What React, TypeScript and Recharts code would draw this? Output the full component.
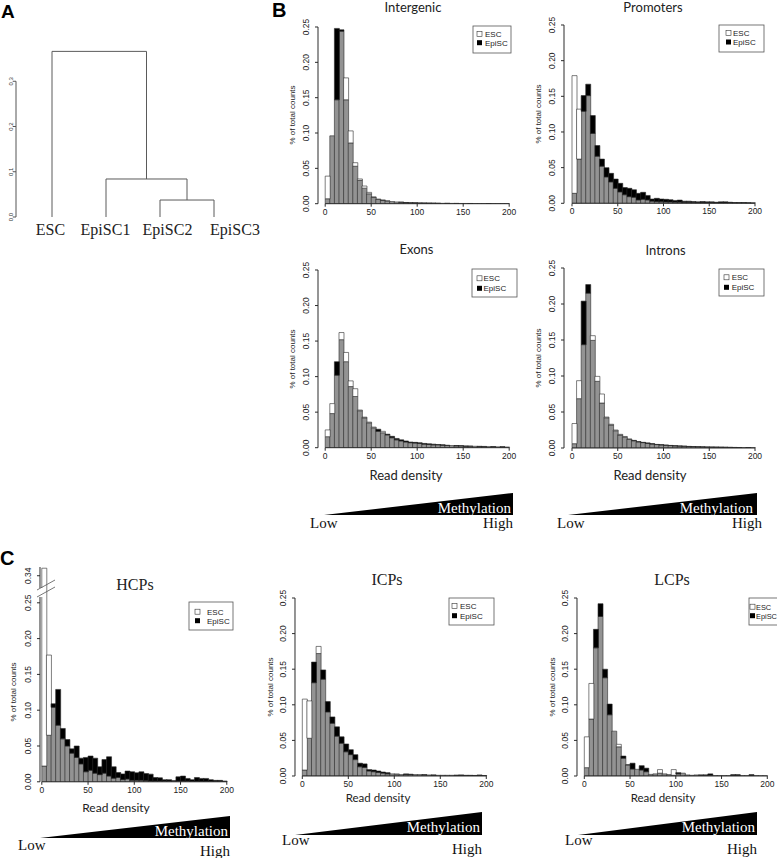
import React from 'react';
import { Bar, BarChart, ReferenceLine, Scatter, ScatterChart, XAxis, YAxis } from 'recharts';

// histogram bins: start of each 5-wide read density bin
const BIN_STARTS = [
  0, 5, 10, 15, 20, 25, 30, 35, 40, 45, 50, 55, 60, 65, 70, 75, 80, 85, 90, 95,
  100, 105, 110, 115, 120, 125, 130, 135, 140, 145, 150, 155, 160, 165, 170, 175, 180, 185, 190, 195,
];
const X_TICKS = [0, 50, 100, 150, 200];
const Y_TICKS = [0, 0.05, 0.1, 0.15, 0.2, 0.25];

const INTERGENIC_ESC = [0.039, 0.096, 0.147, 0.244, 0.178, 0.103, 0.058, 0.035, 0.025, 0.016, 0.0095, 0.0065, 0.005, 0.004, 0.003, 0.0025, 0.002, 0.0015, 0.0012, 0.001, 0.0009, 0.0008, 0.0007, 0.0006, 0.0005, 0.0005, 0.0004, 0.0004, 0.0003, 0.0003, 0.0003, 0.0002, 0.0002, 0.0002, 0.0002, 0.0001, 0.0001, 0.0001, 0.0001, 0.0001];
const INTERGENIC_EPISC = [0.007, 0.096, 0.248, 0.246, 0.147, 0.086, 0.053, 0.033, 0.022, 0.014, 0.009, 0.006, 0.0048, 0.0036, 0.003, 0.0025, 0.0021, 0.0017, 0.0014, 0.0012, 0.001, 0.0009, 0.0008, 0.0007, 0.0006, 0.0005, 0.0005, 0.0004, 0.0004, 0.0003, 0.0003, 0.0003, 0.0002, 0.0002, 0.0002, 0.0002, 0.0001, 0.0001, 0.0001, 0.0001];

const PROMOTERS_ESC = [0.179, 0.132, 0.129, 0.151, 0.098, 0.066, 0.052, 0.037, 0.03, 0.021, 0.016, 0.012, 0.0093, 0.0084, 0.0047, 0.0056, 0.0047, 0.003, 0.0023, 0.002, 0.0019, 0.0018, 0.0015, 0.0015, 0.0012, 0.001, 0.001, 0.0008, 0.0008, 0.0007, 0.0006, 0.0005, 0.0005, 0.0005, 0.0004, 0.0004, 0.0003, 0.0003, 0.0002, 0.0002];
const PROMOTERS_EPISC = [0.014, 0.062, 0.151, 0.167, 0.123, 0.081, 0.062, 0.05, 0.042, 0.034, 0.028, 0.022, 0.021, 0.019, 0.014, 0.0154, 0.011, 0.006, 0.007, 0.006, 0.0056, 0.005, 0.004, 0.0045, 0.003, 0.003, 0.0025, 0.002, 0.0025, 0.002, 0.002, 0.0015, 0.002, 0.002, 0.0015, 0.001, 0.001, 0.001, 0.0008, 0.0005];

const EXONS_ESC = [0.025, 0.062, 0.102, 0.162, 0.134, 0.094, 0.083, 0.053, 0.043, 0.036, 0.029, 0.023, 0.023, 0.018, 0.014, 0.011, 0.0095, 0.008, 0.007, 0.0065, 0.006, 0.005, 0.0045, 0.004, 0.004, 0.0035, 0.003, 0.003, 0.0025, 0.0025, 0.002, 0.002, 0.002, 0.0015, 0.0015, 0.0015, 0.0012, 0.0012, 0.001, 0.001];
const EXONS_EPISC = [0.0155, 0.048, 0.121, 0.152, 0.121, 0.086, 0.072, 0.052, 0.042, 0.035, 0.028, 0.026, 0.021, 0.019, 0.016, 0.013, 0.011, 0.0095, 0.008, 0.0075, 0.007, 0.006, 0.0055, 0.005, 0.0045, 0.004, 0.0035, 0.003, 0.003, 0.0028, 0.0025, 0.0022, 0.002, 0.002, 0.0018, 0.0015, 0.0015, 0.0012, 0.0012, 0.001];

const INTRONS_ESC = [0.034, 0.0935, 0.1435, 0.215, 0.156, 0.0995, 0.075, 0.043, 0.033, 0.025, 0.019, 0.016, 0.0125, 0.01, 0.0085, 0.0075, 0.0065, 0.0055, 0.0048, 0.0043, 0.0038, 0.0034, 0.003, 0.0027, 0.0024, 0.0021, 0.0019, 0.0017, 0.0015, 0.0013, 0.0012, 0.0011, 0.001, 0.0009, 0.0008, 0.0007, 0.0006, 0.0006, 0.0005, 0.0005];
const INTRONS_EPISC = [0.006, 0.0685, 0.204, 0.227, 0.1495, 0.0926, 0.0625, 0.042, 0.032, 0.024, 0.018, 0.015, 0.012, 0.0106, 0.0088, 0.0079, 0.007, 0.006, 0.005, 0.0046, 0.004, 0.0036, 0.0032, 0.0028, 0.0025, 0.0022, 0.002, 0.0018, 0.0016, 0.0014, 0.0013, 0.0012, 0.0011, 0.001, 0.0009, 0.0008, 0.0007, 0.0006, 0.0006, 0.0005];

const HCP_ESC = [0.365, 0.177, 0.104, 0.079, 0.06, 0.05, 0.04, 0.034, 0.025, 0.014, 0.016, 0.012, 0.01, 0.012, 0.008, 0.005, 0.006, 0.003, 0.004, 0.002, 0.002, 0.002, 0.0015, 0.001, 0.001, 0.001, 0.001, 0.001, 0.001, 0.001, 0.001, 0.001, 0.0005, 0.0005, 0.0005, 0.0005, 0.0005, 0.0005, 0.0005, 0.0005];
const HCP_EPISC = [0.022, 0.065, 0.109, 0.129, 0.0745, 0.059, 0.046, 0.05, 0.033, 0.034, 0.036, 0.033, 0.021, 0.031, 0.035, 0.021, 0.013, 0.011, 0.015, 0.014, 0.0126, 0.014, 0.0116, 0.0107, 0.006, 0.0056, 0.003, 0.003, 0.0015, 0.007, 0.008, 0.0047, 0.003, 0.006, 0.0047, 0.0047, 0.003, 0.002, 0.002, 0.001];

const ICP_ESC = [0.108, 0.1055, 0.131, 0.182, 0.136, 0.09, 0.074, 0.056, 0.046, 0.034, 0.03, 0.023, 0.013, 0.012, 0.007, 0.006, 0.005, 0.004, 0.003, 0.003, 0.003, 0.002, 0.002, 0.002, 0.002, 0.002, 0.0015, 0.0015, 0.001, 0.001, 0.001, 0.001, 0.001, 0.0008, 0.0008, 0.0006, 0.0006, 0.0005, 0.0005, 0.0004];
const ICP_EPISC = [0.0084, 0.053, 0.16, 0.172, 0.149, 0.1045, 0.083, 0.069, 0.055, 0.045, 0.037, 0.03, 0.018, 0.017, 0.009, 0.0084, 0.007, 0.0056, 0.0047, 0.003, 0.002, 0.002, 0.003, 0.0025, 0.002, 0.002, 0.0018, 0.0015, 0.0015, 0.001, 0.001, 0.001, 0.001, 0.0012, 0.0015, 0.001, 0.001, 0.0008, 0.0015, 0.0005];

const LCP_ESC = [0.055, 0.13, 0.18, 0.224, 0.138, 0.086, 0.063, 0.0445, 0.025, 0.016, 0.0098, 0.0094, 0.0084, 0.006, 0.0023, 0.003, 0.009, 0.003, 0.002, 0.009, 0.003, 0.004, 0.0015, 0.001, 0.0015, 0.001, 0.001, 0.001, 0.0005, 0.0005, 0.0005, 0.0005, 0.0005, 0.0005, 0.0005, 0.0005, 0.0005, 0.0005, 0.0003, 0.0003];
const LCP_EPISC = [0.0117, 0.08, 0.206, 0.242, 0.15, 0.101, 0.063, 0.041, 0.028, 0.0155, 0.018, 0.0094, 0.0145, 0.011, 0.0023, 0.003, 0.004, 0.003, 0.002, 0.001, 0.0047, 0.004, 0.0015, 0.001, 0.0015, 0.0015, 0.0015, 0.003, 0.0005, 0.0005, 0.0005, 0.0005, 0.002, 0.002, 0.0005, 0.0005, 0.002, 0.0005, 0.0003, 0.0003];

// dendrogram (hclust style merge table, leaves in plotting order)
const LEAVES = ['ESC', 'EpiSC1', 'EpiSC2', 'EpiSC3'];
const MERGES = [[-3, -4], [-2, 1], [-1, 2]];
const MERGE_HEIGHTS = [0.0375, 0.084, 0.366];
const DENDRO_TICKS = [0, 0.1, 0.2, 0.3];

// HCP axis is broken above 0.25
const HCP_BREAK_LABEL = 0.34;
const BREAK_SCALE = 0.42;

const GRAY = '#939393';
const INK = '#2a2a2a';
const SANS = '"Liberation Sans", Arial, sans-serif';
const SERIF = '"Liberation Serif", "Times New Roman", serif';
const CALIBRI = 'Lato, "Open Sans", sans-serif';

// leaf labels in the source sit a little right of their leaves
const LEAF_LABEL_DX = [-1.5, -0.5, 7.5, 21];

const squash = (v: number) => (v <= 0.25 ? v : 0.25 + (v - 0.25) * BREAK_SCALE);

function XTick(props: any) {
  const { x, y, payload } = props;
  return (
    <text x={x} y={y + 8} textAnchor="middle" fontSize={8.5} fontFamily={SANS} fill="#222">
      {payload.value}
    </text>
  );
}

function makeYTick(fmt: (v: number) => string) {
  return (props: any) => {
    const { x, y, payload } = props;
    const cx = x - 6;
    return (
      <text x={cx} y={y} transform={`rotate(-90 ${cx} ${y})`} textAnchor="middle" fontSize={8.5} fontFamily={SANS} fill="#222">
        {fmt(payload.value)}
      </text>
    );
  };
}

interface HistProps {
  esc: number[];
  episc: number[];
  x0: number;
  x200: number;
  y0: number;
  y25: number;
  pad: number;
  broken?: boolean;
}

function Histogram({ esc, episc, x0, x200, y0, y25, pad, broken }: HistProps) {
  const pxPerUnit = (y0 - y25) / 0.25;
  const yMax = broken ? 0.3 : 0.25;
  const plotTop = y0 - yMax * pxPerUnit;
  const plotLeft = x0 - pad;
  const plotW = x200 - x0 + 2 * pad;
  const plotH = y0 - plotTop;
  const AXIS_W = 30;
  const TOP = 14;
  const RIGHT = 8;
  const BOTTOM = 22;

  const rows = BIN_STARTS.map((bin, i) => {
    const e = broken ? squash(esc[i]) : esc[i];
    const p = broken ? squash(episc[i]) : episc[i];
    return {
      bin,
      shared: Math.min(e, p),
      escOnly: Math.max(e - p, 0),
      episcOnly: Math.max(p - e, 0),
    };
  });

  const breakTick = squash(HCP_BREAK_LABEL);
  const ticks = broken ? [...Y_TICKS, breakTick] : Y_TICKS;
  const fmt = (v: number) => (broken && Math.abs(v - breakTick) < 1e-6 ? '0.34' : v.toFixed(2));

  return (
    <div style={{ position: 'absolute', left: plotLeft - AXIS_W, top: plotTop - TOP }}>
      <BarChart
        width={AXIS_W + plotW + RIGHT}
        height={TOP + plotH + BOTTOM}
        data={rows}
        margin={{ top: TOP, right: RIGHT, bottom: 0, left: 0 }}
        barCategoryGap={0}
        barGap={0}
      >
        <XAxis
          xAxisId="num"
          dataKey="bin"
          type="number"
          domain={[0, 200]}
          ticks={X_TICKS}
          interval={0}
          allowDataOverflow
          padding={{ left: pad, right: pad }}
          axisLine={false}
          tickSize={3}
          tickMargin={0}
          height={BOTTOM}
          stroke={INK}
          tick={<XTick />}
        />
        <XAxis xAxisId="bins" dataKey="bin" hide height={0} padding={{ left: pad, right: pad }} />
        <YAxis
          type="number"
          domain={[0, yMax]}
          ticks={ticks}
          interval={0}
          allowDataOverflow
          width={AXIS_W}
          tickSize={3}
          tickMargin={0}
          stroke={INK}
          tick={makeYTick(fmt)}
        />
        <ReferenceLine xAxisId="num" segment={[{ x: 0, y: 0 }, { x: 200, y: 0 }]} stroke={INK} ifOverflow="visible" />
        <Bar xAxisId="bins" dataKey="shared" stackId="h" fill={GRAY} stroke={INK} strokeWidth={0.6} isAnimationActive={false} />
        <Bar xAxisId="bins" dataKey="escOnly" stackId="h" fill="#ffffff" stroke={INK} strokeWidth={0.6} isAnimationActive={false} />
        <Bar xAxisId="bins" dataKey="episcOnly" stackId="h" fill="#000000" stroke={INK} strokeWidth={0.6} isAnimationActive={false} />
      </BarChart>
    </div>
  );
}

function Dendrogram() {
  const X_MIN = 1 / 3;
  const nodes: { x: number; h: number }[] = [];
  const pos = (ref: number) => (ref < 0 ? { x: -ref, h: 0 } : nodes[ref - 1]);
  const branches = MERGES.map(([a, b], i) => {
    const l = pos(a);
    const r = pos(b);
    const h = MERGE_HEIGHTS[i];
    nodes.push({ x: (l.x + r.x) / 2, h });
    return [
      { x: l.x, y: l.h },
      { x: l.x, y: h },
      { x: r.x, y: h },
      { x: r.x, y: r.h },
    ];
  });

  const LeafTick = (props: any) => {
    const i = props.payload.value - 1;
    return (
      <text x={props.x + LEAF_LABEL_DX[i]} y={props.y + 18} textAnchor="middle" fontSize={16} fontFamily={SERIF} fill="#222">
        {LEAVES[i]}
      </text>
    );
  };
  const DTick = (props: any) => {
    const cx = props.x;
    return (
      <text x={cx} y={props.y} transform={`rotate(-90 ${cx} ${props.y})`} textAnchor="middle" fontSize={6} fontFamily={SANS} fill="#333">
        {props.payload.value.toFixed(1)}
      </text>
    );
  };

  return (
    <div style={{ position: 'absolute', left: 0, top: 0 }}>
      <ScatterChart width={270} height={250} margin={{ top: 36, right: 29, bottom: 0, left: 0 }}>
        <XAxis
          type="number"
          dataKey="x"
          domain={[X_MIN, 4.5]}
          allowDataOverflow
          ticks={[1, 2, 3, 4]}
          interval={0}
          axisLine={false}
          tickLine={false}
          tickSize={0}
          tickMargin={0}
          height={33}
          tick={<LeafTick />}
        />
        <YAxis
          type="number"
          dataKey="y"
          domain={[0, 0.4]}
          allowDataOverflow
          ticks={DENDRO_TICKS}
          interval={0}
          width={16}
          axisLine={false}
          tickSize={3}
          tickMargin={0}
          stroke="#555"
          tick={<DTick />}
        />
        <ReferenceLine segment={[{ x: X_MIN, y: 0 }, { x: X_MIN, y: 0.3 }]} stroke="#555" />
        {branches.map((pts, i) => (
          <Scatter
            key={i}
            data={pts}
            line={{ stroke: '#5a5a5a', strokeWidth: 1 }}
            shape={() => <g />}
            isAnimationActive={false}
          />
        ))}
      </ScatterChart>
    </div>
  );
}

function LegendBox({ x, y, w, h, sq, tx, r1, r2, fs = 8 }: { x: number; y: number; w: number; h: number; sq: number; tx: number; r1: number; r2: number; fs?: number }) {
  return (
    <g>
      <rect x={x} y={y} width={w} height={h} fill="#fff" stroke="#555" strokeWidth={0.8} />
      <rect x={sq} y={r1 - 2.5} width={5} height={5} fill="#fff" stroke="#333" strokeWidth={0.6} />
      <rect x={sq} y={r2 - 2.5} width={5} height={5} fill="#000" />
      <text x={tx} y={r1 + 3} fontSize={fs} fontFamily={SANS} fill="#222">ESC</text>
      <text x={tx} y={r2 + 3} fontSize={fs} fontFamily={SANS} fill="#222">EpiSC</text>
    </g>
  );
}

function Wedge({ tip, right, top, bottom, lowX, lowY, highX, highY, methX, methY }: any) {
  return (
    <g>
      <polygon points={`${tip},${bottom} ${right},${top} ${right},${bottom}`} fill="#000" />
      <text x={methX} y={methY} textAnchor="end" fontSize={15} fontFamily={SERIF} fill="#fff">Methylation</text>
      <text x={lowX} y={lowY} fontSize={15} fontFamily={SERIF} fill="#111">Low</text>
      <text x={highX} y={highY} textAnchor="end" fontSize={15} fontFamily={SERIF} fill="#111">High</text>
    </g>
  );
}

const rotLabel = (x: number, y: number) => (
  <text x={x} y={y} transform={`rotate(-90 ${x} ${y})`} textAnchor="middle" fontSize={8} fontFamily={SANS} fill="#222">
    % of total counts
  </text>
);

export default function App() {
  return (
    <div style={{ position: 'absolute', left: 0, top: 0, width: 777, height: 858, background: '#fff', overflow: 'hidden' }}>
      <Dendrogram />

      <Histogram esc={INTERGENIC_ESC} episc={INTERGENIC_EPISC} x0={325} x200={509} y0={204} y25={27.3} pad={7.2} />
      <Histogram esc={PROMOTERS_ESC} episc={PROMOTERS_EPISC} x0={572} x200={755} y0={203.3} y25={25} pad={8} />
      <Histogram esc={EXONS_ESC} episc={EXONS_EPISC} x0={325} x200={509} y0={447.7} y25={270} pad={7.2} />
      <Histogram esc={INTRONS_ESC} episc={INTRONS_EPISC} x0={572} x200={755} y0={448.3} y25={268.3} pad={8} />
      <Histogram esc={HCP_ESC} episc={HCP_EPISC} x0={42} x200={227} y0={782} y25={603} pad={1.8} broken />
      <Histogram esc={ICP_ESC} episc={ICP_EPISC} x0={302} x200={486} y0={776} y25={598} pad={7.3} />
      <Histogram esc={LCP_ESC} episc={LCP_EPISC} x0={584} x200={767} y0={776} y25={598} pad={7.3} />

      <svg width={777} height={858} style={{ position: 'absolute', left: 0, top: 0, pointerEvents: 'none' }}>
        <text x={1} y={18} fontSize={19} fontWeight="bold" fontFamily={SANS}>A</text>
        <text x={272} y={17} fontSize={20} fontWeight="bold" fontFamily={SANS}>B</text>
        <text x={0} y={565} fontSize={20} fontWeight="bold" fontFamily={SANS}>C</text>

        <text x={413} y={11.5} textAnchor="middle" fontSize={13} fontFamily={CALIBRI} fill="#222">Intergenic</text>
        <text x={653} y={12} textAnchor="middle" fontSize={13} fontFamily={CALIBRI} fill="#222">Promoters</text>
        <text x={416.5} y={253.5} textAnchor="middle" fontSize={13} fontFamily={CALIBRI} fill="#222">Exons</text>
        <text x={665.5} y={254.5} textAnchor="middle" fontSize={13} fontFamily={CALIBRI} fill="#222">Introns</text>
        <text x={406} y={479.5} textAnchor="middle" fontSize={13} fontFamily={CALIBRI} fill="#222">Read density</text>
        <text x={650} y={479.5} textAnchor="middle" fontSize={13} fontFamily={CALIBRI} fill="#222">Read density</text>

        <text x={135} y={590} textAnchor="middle" fontSize={16} fontFamily={SERIF} fill="#222">HCPs</text>
        <text x={387} y={585} textAnchor="middle" fontSize={16} fontFamily={SERIF} fill="#222">ICPs</text>
        <text x={672} y={585} textAnchor="middle" fontSize={16} fontFamily={SERIF} fill="#222">LCPs</text>
        <text x={116} y={812} textAnchor="middle" fontSize={12} fontFamily={CALIBRI} fill="#222">Read density</text>
        <text x={378} y={802} textAnchor="middle" fontSize={11.5} fontFamily={CALIBRI} fill="#222">Read density</text>
        <text x={663} y={802} textAnchor="middle" fontSize={11.5} fontFamily={CALIBRI} fill="#222">Read density</text>

        {rotLabel(295, 115)}
        {rotLabel(541, 114)}
        {rotLabel(295, 359)}
        {rotLabel(541, 358)}
        {rotLabel(16, 692)}
        {rotLabel(273, 687)}
        {rotLabel(555, 687)}

        <LegendBox x={473} y={26} w={38} h={27} sq={477} tx={485} r1={34} r2={42.7} />
        <LegendBox x={719} y={25} w={45} h={27} sq={726} tx={733} r1={33} r2={42} />
        <LegendBox x={472} y={269} w={45} h={28} sq={477} tx={483.5} r1={278.3} r2={288.3} />
        <LegendBox x={719} y={269} w={45} h={27} sq={724} tx={731.7} r1={277.3} r2={287.3} />
        <LegendBox x={189} y={602} w={44} h={28} sq={195} tx={207} r1={611.7} r2={620.7} />
        <LegendBox x={449} y={598} w={45} h={27} sq={452} tx={460} r1={606} r2={615.7} />
        <LegendBox x={749} y={598} w={40} h={27} sq={750} tx={756} r1={606.7} r2={615.7} fs={7.4} />

        {/* axis break on HCPs */}
        <rect x={36} y={588} width={8} height={9} fill="#fff" />
        <line x1={37} y1={590} x2={55} y2={580} stroke="#555" strokeWidth={0.8} />
        <line x1={37} y1={597} x2={55} y2={587} stroke="#555" strokeWidth={0.8} />

        <Wedge tip={324} right={513} top={493} bottom={515} lowX={310} lowY={528} highX={513} highY={528} methX={511} methY={513} />
        <Wedge tip={568} right={757} top={493} bottom={515} lowX={557} lowY={528} highX={762} highY={528} methX={753} methY={513} />
        <Wedge tip={40} right={230} top={816} bottom={838} lowX={18} lowY={850} highX={230} highY={856} methX={228} methY={836} />
        <Wedge tip={295} right={482} top={812} bottom={835} lowX={282} lowY={845} highX={482} highY={854} methX={480} methY={832} />
        <Wedge tip={578} right={757} top={812} bottom={835} lowX={565} lowY={845} highX={757} highY={854} methX={755} methY={832} />
      </svg>
    </div>
  );
}
